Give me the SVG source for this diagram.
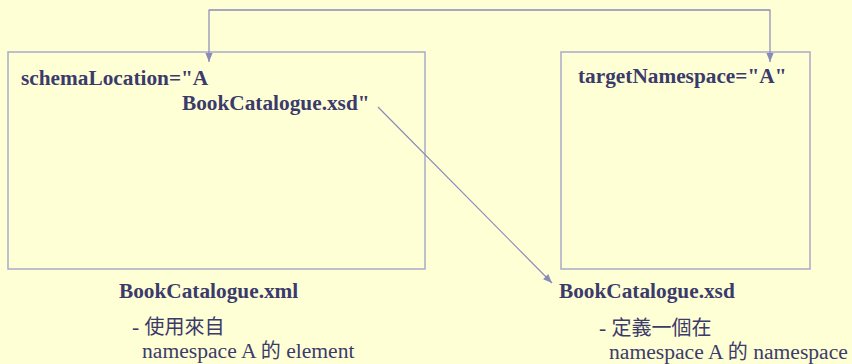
<svg xmlns="http://www.w3.org/2000/svg" width="852" height="364" viewBox="0 0 852 364">
<style>
.box{fill:none;stroke:#A9A9C9;stroke-width:1.5}
.con{fill:none;stroke:#8A8ABA;stroke-width:1.2}
.b{font-family:"Liberation Serif",serif;font-weight:bold;font-size:21.3px;fill:#3B3B6B}
.r{font-family:"Liberation Serif",serif;font-size:21.6px;fill:#3B3B6B}
.cjk{font-family:"Noto Sans CJK TC",sans-serif;font-size:20px}
</style>
<defs>
<marker id="ah" viewBox="0 0 10 10" refX="10" refY="5" markerWidth="10" markerHeight="9" markerUnits="userSpaceOnUse" orient="auto">
<path d="M0,1 L10,5 L0,9 z" fill="#8A8ABA"/>
</marker>
</defs>
<rect width="852" height="364" fill="#FFFFD6"/>
<g id="xml-node">
<rect class="box" x="8" y="52" width="417" height="217"/>
<text class="b" x="21" y="85">schemaLocation="A</text>
<text class="b" x="182" y="110">BookCatalogue.xsd"</text>
<text class="b" x="119" y="298">BookCatalogue.xml</text>
<text class="r" x="132" y="334">- <tspan class="cjk">使用來自</tspan></text>
<text class="r" x="142" y="358">namespace A <tspan class="cjk">的</tspan> element</text>
</g>
<g id="xsd-node">
<rect class="box" x="561" y="52" width="249" height="217"/>
<text class="b" x="578" y="83">targetNamespace="A"</text>
<text class="b" x="559" y="298">BookCatalogue.xsd</text>
<text class="r" x="599" y="335">- <tspan class="cjk">定義一個在</tspan></text>
<text class="r" x="609" y="359">namespace A <tspan class="cjk">的</tspan> namespace</text>
</g>
<g id="connectors">
<polyline class="con" points="770,10 209,10 209,62" marker-end="url(#ah)"/>
<polyline class="con" points="209,10 770,10 770,62" marker-end="url(#ah)"/>
<line class="con" x1="378" y1="107" x2="552" y2="283" marker-end="url(#ah)"/>
</g>
</svg>
